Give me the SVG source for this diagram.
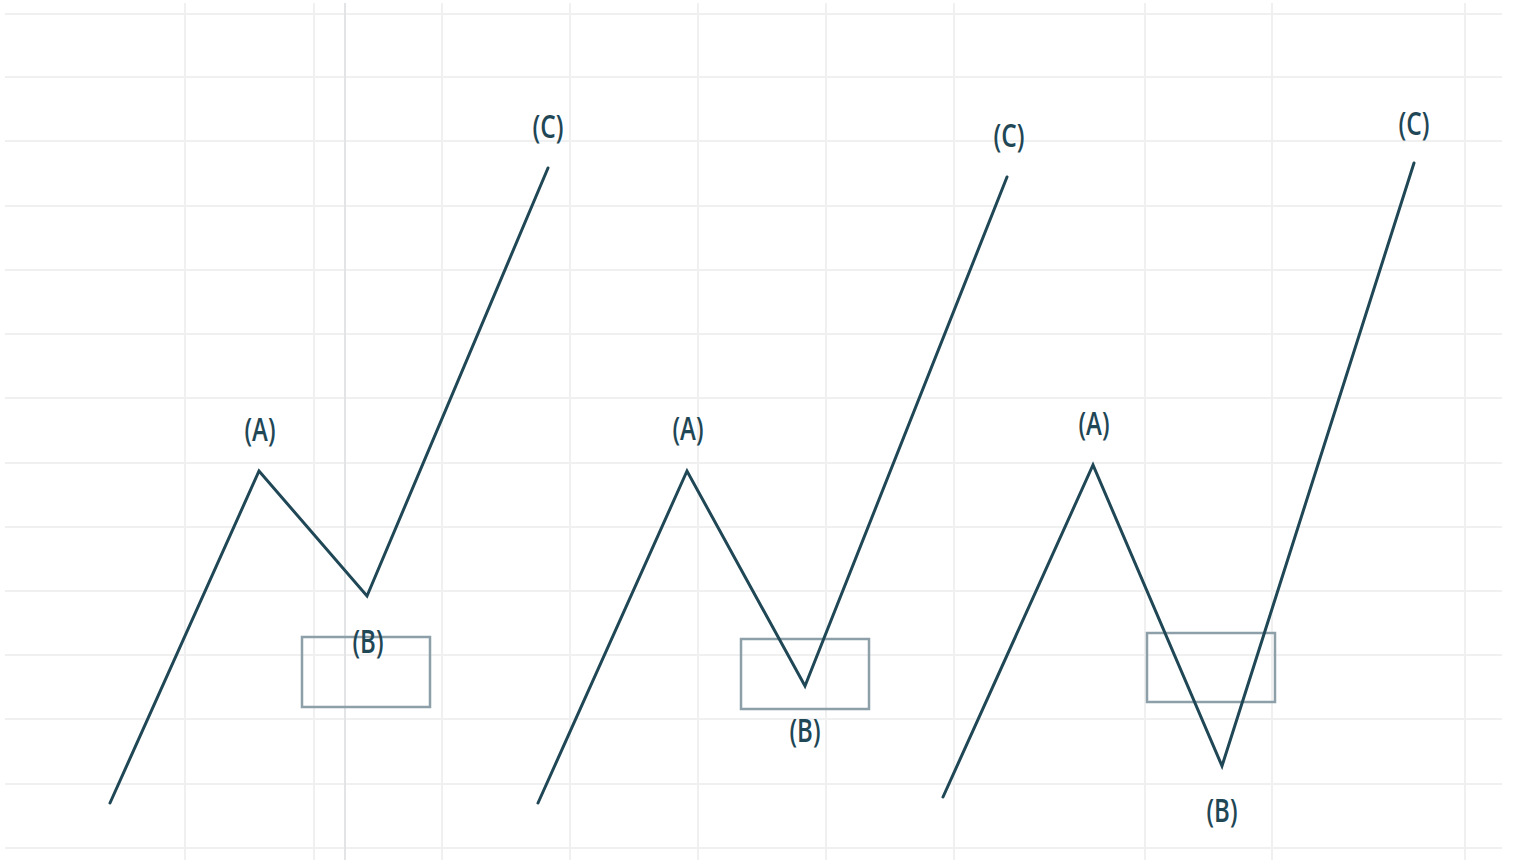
<svg xmlns="http://www.w3.org/2000/svg" width="1531" height="860" viewBox="0 0 1531 860">
<style>
.g{stroke:#f0f0f0;stroke-width:2;fill:none}
.gd{stroke:#e2e4e6;stroke-width:2;fill:none}
.w{stroke:#1f4756;stroke-width:3;fill:none;stroke-linejoin:miter;stroke-linecap:round}
.box{stroke:#8d9fa8;stroke-width:2.5;fill:none}
.lb{font-family:"Open Sans","Liberation Sans",sans-serif;font-size:32px;font-weight:600;fill:#1f4756;text-anchor:middle}
</style>
<rect width="1531" height="860" fill="#ffffff"/>
<g id="grid">
<path class="g" d="M5 14H1502M5 77H1502M5 141H1502M5 206H1502M5 270H1502M5 334H1502M5 398H1502M5 463H1502M5 527H1502M5 591H1502M5 655H1502M5 719H1502M5 784H1502M5 848H1502"/>
<path class="g" d="M185 3V860M314 3V860M442 3V860M570 3V860M698 3V860M826 3V860M954 3V860M1145 3V860M1272 3V860M1465 3V860"/>
<path class="gd" d="M345 3V860"/>
</g>
<g id="boxes">
<rect id="box1" class="box" x="302" y="637" width="128" height="70"/>
<rect id="box2" class="box" x="741" y="639" width="128" height="70"/>
<rect id="box3" class="box" x="1147" y="633" width="128" height="69"/>
</g>
<g id="connectors">
<polyline id="wave1" class="w" points="110,803 259,471 367,596 548,168"/>
<polyline id="wave2" class="w" points="538,803 687,471 805,686 1007,177"/>
<polyline id="wave3" class="w" points="943,797 1093,465 1222,766 1414,163"/>
</g>
<g id="labels1">
<text class="lb" x="260" y="441" textLength="31" lengthAdjust="spacingAndGlyphs">(A)</text>
<text class="lb" x="368" y="653" textLength="31" lengthAdjust="spacingAndGlyphs">(B)</text>
<text class="lb" x="548" y="138" textLength="31" lengthAdjust="spacingAndGlyphs">(C)</text>
</g>
<g id="labels2">
<text class="lb" x="688" y="440" textLength="31" lengthAdjust="spacingAndGlyphs">(A)</text>
<text class="lb" x="805" y="742" textLength="31" lengthAdjust="spacingAndGlyphs">(B)</text>
<text class="lb" x="1009" y="147" textLength="31" lengthAdjust="spacingAndGlyphs">(C)</text>
</g>
<g id="labels3">
<text class="lb" x="1094" y="435" textLength="31" lengthAdjust="spacingAndGlyphs">(A)</text>
<text class="lb" x="1222" y="822" textLength="31" lengthAdjust="spacingAndGlyphs">(B)</text>
<text class="lb" x="1414" y="135" textLength="31" lengthAdjust="spacingAndGlyphs">(C)</text>
</g>
</svg>
